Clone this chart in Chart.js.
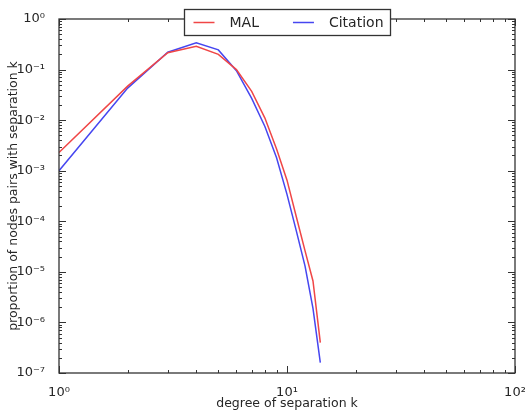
<!DOCTYPE html>
<html>
<head>
<meta charset="utf-8">
<script src="https://cdn.jsdelivr.net/npm/chart.js@4.4.0/dist/chart.umd.min.js"></script>
<style>
  html, body { margin: 0; padding: 0; background: #fff; }
</style>
</head>
<body>
<canvas id="chart" width="525" height="411"></canvas>
<script>
// degree of separation k
const separation = [1, 2, 3, 4, 5, 6, 7, 8, 9, 10, 11, 12, 13, 14];
const malValues = [2.3e-3, 0.047, 0.215, 0.29, 0.20, 0.10, 0.037, 0.011, 0.0027, 6.5e-4, 1.2e-4, 2.6e-5, 6.6e-6, 4.0e-7];
const citationValues = [1.0e-3, 0.043, 0.22, 0.34, 0.245, 0.095, 0.027, 0.0075, 0.0018, 3.4e-4, 6.3e-5, 1.3e-5, 1.9e-6, 1.6e-7];

const xTicks = [1, 10, 100];
const yTicks = [1e-7, 1e-6, 1e-5, 1e-4, 1e-3, 1e-2, 1e-1, 1];

const FONT = "'DejaVu Sans', sans-serif";
const TEXT = '#262626';

const supDigits = { '0': '⁰', '1': '¹', '2': '²', '3': '³', '4': '⁴', '5': '⁵', '6': '⁶', '7': '⁷', '8': '⁸', '9': '⁹', '-': '⁻' };
function powLabel(v) {
  const e = Math.round(Math.log10(v));
  return '10' + String(e).split('').map(c => supDigits[c]).join('');
}

// minor tick positions between the decades
function minorsOf(majors) {
  const out = [];
  for (let i = 0; i < majors.length - 1; i++) {
    for (let m = 2; m <= 9; m++) out.push(majors[i] * m);
  }
  return out;
}

// matplotlib-like frame with inward ticks on all four sides
const frameTicks = {
  id: 'frameTicks',
  afterDatasetsDraw(chart) {
    const { ctx, chartArea: a, scales } = chart;
    ctx.save();
    ctx.strokeStyle = '#333';
    ctx.lineWidth = 1;
    const tick = (vals, len, isX) => {
      vals.forEach(v => {
        if (isX) {
          const px = Math.round(scales.x.getPixelForValue(v)) + 0.5;
          ctx.beginPath();
          ctx.moveTo(px, a.bottom); ctx.lineTo(px, a.bottom - len);
          ctx.moveTo(px, a.top); ctx.lineTo(px, a.top + len);
          ctx.stroke();
        } else {
          const py = Math.round(scales.y.getPixelForValue(v)) + 0.5;
          ctx.beginPath();
          ctx.moveTo(a.left, py); ctx.lineTo(a.left + len, py);
          ctx.moveTo(a.right, py); ctx.lineTo(a.right - len, py);
          ctx.stroke();
        }
      });
    };
    tick(xTicks, 7, true);
    tick(minorsOf(xTicks), 3, true);
    tick(yTicks, 7, false);
    tick(minorsOf(yTicks), 3, false);
    ctx.lineWidth = 1.3;
    ctx.strokeRect(a.left, a.top, a.right - a.left, a.bottom - a.top);
    ctx.restore();
  },
  afterDraw(chart) {
    // legend box straddling the top of the axes
    const { ctx, chartArea: a } = chart;
    const ds = chart.data.datasets;
    ctx.save();
    ctx.font = '14px ' + FONT;
    const widths = ds.map(d => ctx.measureText(d.label).width);
    const lineLen = 21, gapText = 15, gapItem = 34, padL = 9, padR = 7;
    let total = padL + padR + gapItem * (ds.length - 1);
    widths.forEach(w => { total += lineLen + gapText + w; });
    const h = 26;
    const x0 = Math.round((a.left + a.right) / 2 - total / 2) + 0.5;
    const y0 = Math.round(a.top - 10) + 0.5;
    ctx.fillStyle = '#fff';
    ctx.fillRect(x0, y0, total, h);
    ctx.strokeStyle = '#333';
    ctx.lineWidth = 1.3;
    ctx.strokeRect(x0, y0, total, h);
    let x = x0 + padL;
    const cy = y0 + h / 2;
    ds.forEach((d, i) => {
      ctx.strokeStyle = d.borderColor;
      ctx.lineWidth = 1.5;
      ctx.beginPath();
      ctx.moveTo(x, cy); ctx.lineTo(x + lineLen, cy);
      ctx.stroke();
      x += lineLen + gapText;
      ctx.fillStyle = TEXT;
      ctx.textBaseline = 'middle';
      ctx.fillText(d.label, x, cy + 1);
      x += widths[i] + gapItem;
    });
    ctx.restore();
  }
};

new Chart(document.getElementById('chart'), {
  type: 'line',
  data: {
    datasets: [
      {
        label: 'MAL',
        data: separation.map((k, i) => ({ x: k, y: malValues[i] })),
        borderColor: 'rgba(240, 70, 70, 1)',
        borderWidth: 1.5,
        pointRadius: 0,
        tension: 0,
        fill: false
      },
      {
        label: 'Citation',
        data: separation.map((k, i) => ({ x: k, y: citationValues[i] })),
        borderColor: 'rgba(70, 70, 240, 1)',
        borderWidth: 1.5,
        pointRadius: 0,
        tension: 0,
        fill: false
      }
    ]
  },
  options: {
    responsive: false,
    animation: false,
    devicePixelRatio: 1,
    layout: { padding: { top: 19, right: 10, left: 0, bottom: 0 } },
    plugins: {
      legend: { display: false },
      tooltip: { enabled: false }
    },
    scales: {
      x: {
        type: 'logarithmic',
        min: 1,
        max: 100,
        afterBuildTicks: s => { s.ticks = xTicks.map(v => ({ value: v })); },
        afterFit: s => { s.height = 38; s.paddingLeft = 0; s.paddingRight = 0; },
        grid: { display: false },
        border: { display: false },
        ticks: {
          autoSkip: false,
          maxRotation: 0,
          padding: 4,
          color: TEXT,
          font: { family: FONT, size: 13 },
          callback: v => powLabel(v)
        },
        title: {
          display: true,
          text: 'degree of separation k',
          color: TEXT,
          font: { family: FONT, size: 12.5 },
          padding: 0
        }
      },
      y: {
        type: 'logarithmic',
        min: 1e-7,
        max: 1,
        afterBuildTicks: s => { s.ticks = yTicks.map(v => ({ value: v })); },
        afterFit: s => { s.width = 59; s.paddingTop = 0; s.paddingBottom = 0; },
        grid: { display: false },
        border: { display: false },
        ticks: {
          autoSkip: false,
          padding: 6,
          color: TEXT,
          font: { family: FONT, size: 13 },
          callback: v => powLabel(v)
        },
        title: {
          display: true,
          text: 'proportion of nodes pairs with separation k',
          color: TEXT,
          font: { family: FONT, size: 12.5 },
          padding: { top: 6, bottom: 0 }
        }
      }
    }
  },
  plugins: [frameTicks]
});
</script>
</body>
</html>
